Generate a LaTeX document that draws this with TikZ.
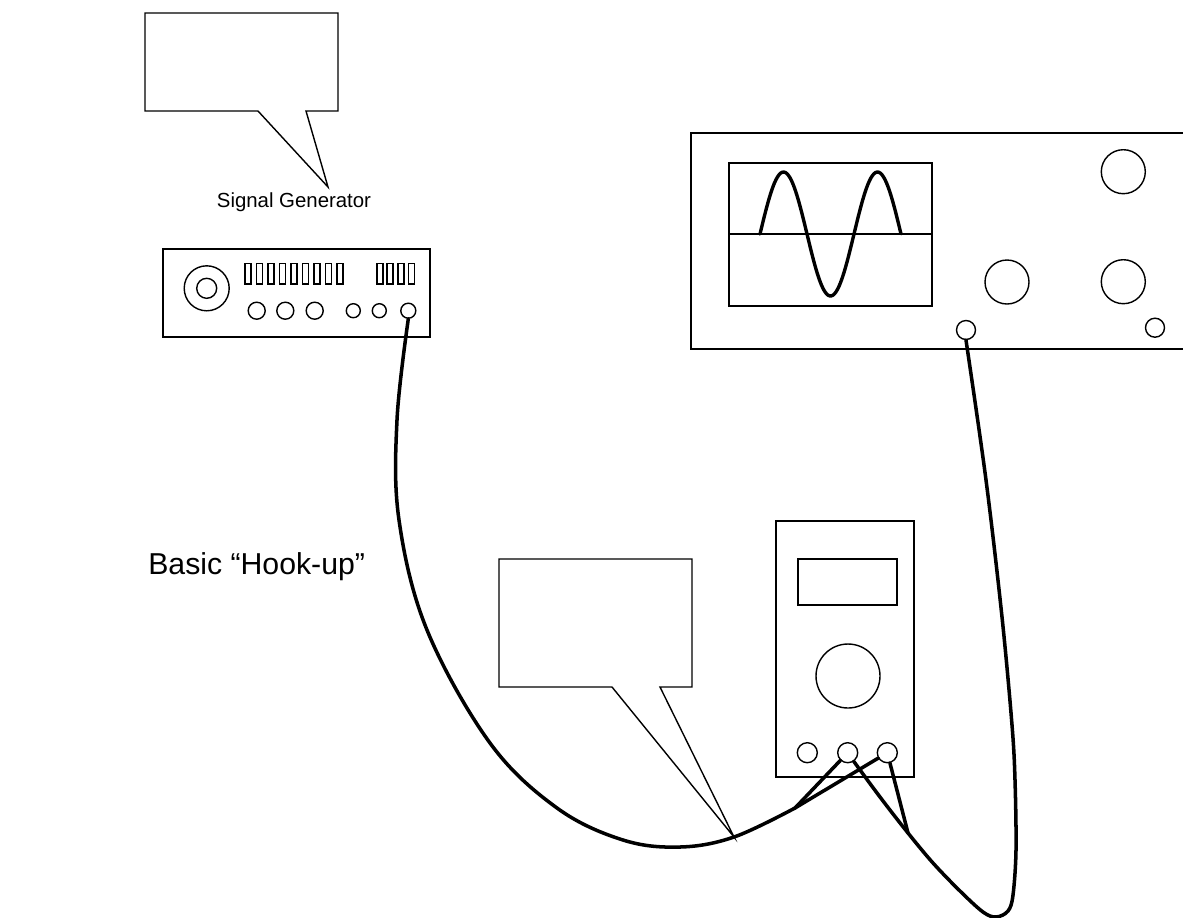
\documentclass[tikz,border=0pt]{standalone}
\usepackage{fontspec}
\setmainfont{Liberation Sans}
\newlength\pxl
\setlength\pxl{0.025cm}
\begin{document}
\begin{tikzpicture}[x=0.025cm,y=-0.025cm,
  thinline/.style={line width=1pt},
  cable/.style={line width=2.5pt, line cap=round, line join=round},
  wave/.style={line width=2.4pt, line cap=round},
  knob/.style={circle, draw, line width=1pt, inner sep=0pt, minimum size=#1\pxl},
  digit/.style={line width=1.2pt},
  balloon/.style={line width=1pt, line join=miter}]
\clip (0,0) rectangle (1183,917);
\fill[white] (0,0) rectangle (1183,917);

% speech balloon above the generator and its caption
\draw[balloon] (145,13) -- (338,13) -- (338,111) -- (306,111) -- (328,187)
  -- (258,111) -- (145,111) -- cycle;
\node[anchor=base, font=\fontsize{14.5}{17}\selectfont] (sglabel) at (294,207) {Signal Generator};

% signal generator
\draw[thinline] (163,249) rectangle (430,337);
\node[knob=45] (sgdial) at (206.7,288.3) {};
\node[knob=20] (sgdialin) at (206.7,288.3) {};
\foreach \i in {0,...,8}
  \draw[digit] ({245+11.5*\i},263.5) rectangle ++(6,20.5);
\foreach \i in {0,...,3}
  \draw[digit] ({376.7+10.6*\i},263.5) rectangle ++(6,20.5);
\node[knob=17] (sgk1) at (256.7,310.7) {};
\node[knob=17] (sgk2) at (285.3,310.7) {};
\node[knob=17] (sgk3) at (314.7,310.7) {};
\node[knob=14] (sgk4) at (353.3,310.7) {};
\node[knob=14] (sgk5) at (379.3,310.7) {};
\node[knob=15] (sgout) at (408.3,310.7) {};

% oscilloscope
\draw[thinline] (691,133) rectangle (1200,349);
\draw[thinline] (729,163) rectangle (932,306);
\draw[thinline] (729,234) -- (932,234);
\draw[wave] plot[domain=0:1.5, samples=90, smooth] ({760+94*\x},{234-62*sin(360*\x)});
\node[knob=44] (osck1) at (1123.3,171.7) {};
\node[knob=44] (osck2) at (1007,282) {};
\node[knob=44] (osck3) at (1123.3,281.7) {};
\node[knob=19] (oscjack) at (966,330) {};
\node[knob=19] (osck4) at (1155,327.7) {};

% multimeter
\draw[thinline] (776,521) rectangle (914,777);
\draw[thinline] (798,559) rectangle (897,605);
\node[knob=64] (mmdial) at (848,676) {};
\node[knob=20] (ljack) at (807.3,752.7) {};
\node[knob=20] (mjack) at (847.7,752.7) {};
\node[knob=20] (rjack) at (887.3,752.7) {};

% speech balloon pointing at the cable
\draw[balloon] (499,559) -- (692,559) -- (692,687) -- (660,687) -- (734,837)
  -- (612,687) -- (499,687) -- cycle;

% caption
\node[anchor=west, inner sep=0pt, font=\fontsize{21.5}{26}\selectfont] (title) at (148,567) {Basic “Hook-up”};

% test leads
\coordinate (apexL) at (795,808);
\coordinate (apexR) at (908,833);
\draw[cable] plot[smooth, tension=0.6] coordinates {(sgout.south) (397,420)
  (399,520) (427,630) (490,743) (557,808) (623,840) (680,847) (734,837) (apexL)};
\draw[cable] (apexL) -- (mjack);
\draw[cable] (apexL) -- (rjack);
\draw[cable] (rjack) -- (apexR);
\draw[cable] plot[smooth, tension=0.55] coordinates {(mjack.-55) (880,797) (apexR)
  (933,863) (960,891) (983,912) (996,917) (1008,911) (1013,895) (1016,850)
  (1015,780) (1012,725) (1002,617) (986,480) (oscjack.south)};
\end{tikzpicture}
\end{document}
